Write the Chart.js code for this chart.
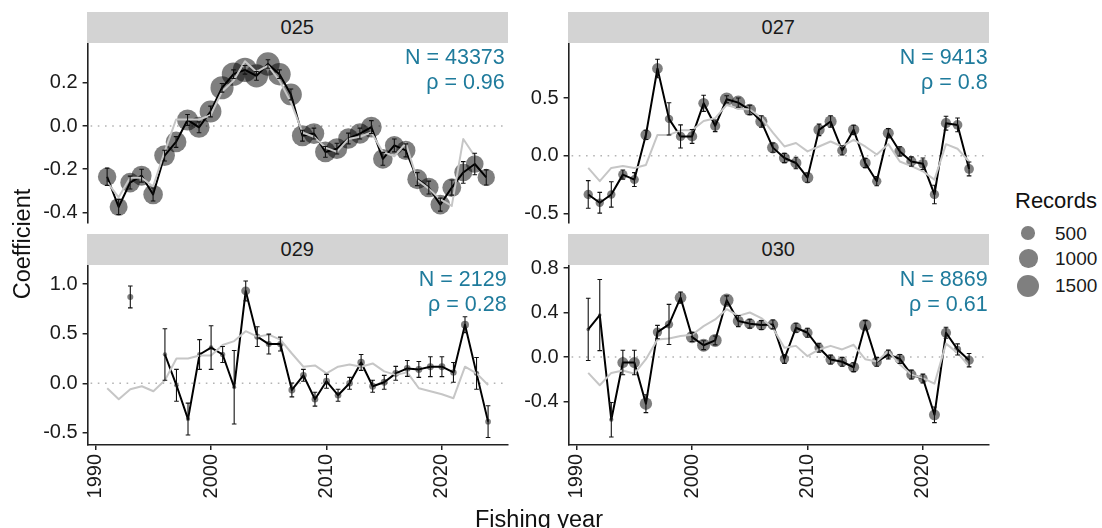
<!DOCTYPE html>
<html>
<head>
<meta charset="utf-8">
<script src="https://cdn.jsdelivr.net/npm/chart.js@4.4.1/dist/chart.umd.min.js"></script>
<style>
  html, body { margin: 0; padding: 0; background: #ffffff; }
  #fig { position: relative; width: 1102px; height: 528px; overflow: hidden;
         font-family: "Liberation Sans", Arial, sans-serif; color: #1a1a1a; }
  #fig canvas { position: absolute; }
  .strip { position: absolute; background: #d3d3d3; text-align: center;
           font-size: 20px; line-height: 31px; height: 31px; color: #1a1a1a; }
  .axis-title { position: absolute; font-size: 23.5px; line-height: 26px;
                text-align: center; white-space: nowrap; color: #111; }
  .key { position: absolute; border-radius: 50%; background: rgba(0, 0, 0, 0.5); }
  .key-label { position: absolute; font-size: 19px; line-height: 22px; color: #1a1a1a; }
  .legend-title { position: absolute; font-size: 22px; line-height: 25px; color: #111; }
</style>
</head>
<body>
<div id="fig"></div>
<script>
// ---- data -------------------------------------------------------------
const years = [1991, 1992, 1993, 1994, 1995, 1996, 1997, 1998, 1999, 2000,
               2001, 2002, 2003, 2004, 2005, 2006, 2007, 2008, 2009, 2010,
               2011, 2012, 2013, 2014, 2015, 2016, 2017, 2018, 2019, 2020,
               2021, 2022, 2023, 2024];

const panelNames = ['025', '027', '029', '030'];
const nTotals = [43373, 9413, 2129, 8869];
const rhoValues = ['0.96', '0.8', '0.28', '0.61'];

// Year coefficients (black), comparison index (grey), half-width of the error bar, records per year
const coef025 = [-0.235, -0.375, -0.262, -0.23, -0.317, -0.137, -0.074, 0.028, -0.006, 0.067,
                 0.177, 0.24, 0.26, 0.232, 0.287, 0.24, 0.146, -0.045, -0.035, -0.12,
                 -0.105, -0.058, -0.035, -0.005, -0.152, -0.09, -0.113, -0.246, -0.285, -0.364,
                 -0.285, -0.215, -0.176, -0.238];
const ref025 = [-0.26, -0.33, -0.24, -0.24, -0.28, -0.12, 0.03, 0.03, 0.03, 0.05,
                0.16, 0.21, 0.30, 0.25, 0.28, 0.21, 0.11, -0.03, -0.05, -0.10,
                -0.12, -0.06, -0.05, -0.03, -0.12, -0.14, -0.08, -0.25, -0.29, -0.34,
                -0.37, -0.06, -0.14, null];
const err025 = [0.04, 0.035, 0.03, 0.03, 0.03, 0.025, 0.025, 0.025, 0.025, 0.025,
                0.02, 0.02, 0.02, 0.02, 0.02, 0.02, 0.025, 0.025, 0.025, 0.025,
                0.025, 0.025, 0.025, 0.03, 0.03, 0.03, 0.03, 0.03, 0.03, 0.03,
                0.035, 0.05, 0.05, 0.035];
const rec025 = [1000, 950, 1150, 1200, 1150, 1300, 1300, 1350, 1350, 1450,
                1650, 1700, 1850, 1650, 1700, 1550, 1450, 1350, 1300, 1300,
                1300, 1250, 1250, 1300, 1150, 1050, 1100, 1200, 1150, 1150,
                1050, 950, 900, 873];

const coef027 = [-0.336, -0.408, -0.336, -0.164, -0.207, 0.181, 0.756, 0.319, 0.167, 0.167,
                 0.454, 0.259, 0.489, 0.46, 0.397, 0.296, 0.07, -0.02, -0.063, -0.19,
                 0.224, 0.296, 0.046, 0.224, -0.063, -0.221, 0.195, 0.037, -0.05, -0.07,
                 -0.336, 0.282, 0.267, -0.115];
const ref027 = [-0.106, -0.221, -0.106, -0.09, -0.106, -0.08, 0.18, 0.18, 0.22, 0.22,
                0.30, 0.325, 0.44, 0.41, 0.40, 0.33, 0.20, 0.08, 0.11, 0.037,
                0.08, 0.123, 0.08, 0.138, 0.08, 0.01, 0.10, -0.05, -0.09, -0.135,
                -0.207, 0.10, 0.06, -0.05];
const err027 = [0.12, 0.09, 0.11, 0.04, 0.06, 0.04, 0.08, 0.14, 0.10, 0.06,
                0.07, 0.05, 0.03, 0.04, 0.04, 0.05, 0.04, 0.04, 0.05, 0.04,
                0.05, 0.05, 0.04, 0.04, 0.04, 0.04, 0.04, 0.04, 0.04, 0.05,
                0.08, 0.06, 0.06, 0.06];
const rec027 = [200, 150, 150, 200, 180, 300, 280, 150, 200, 250,
                280, 250, 500, 533, 400, 380, 350, 300, 300, 350,
                320, 380, 230, 320, 300, 200, 300, 300, 250, 220,
                200, 250, 220, 220];

const coef029 = [null, null, 0.87, null, null, 0.29, -0.02, -0.36, 0.29, 0.36,
                 0.29, -0.04, 0.93, 0.47, 0.395, 0.395, -0.067, 0.08, -0.16, 0.02,
                 -0.12, 0.0, 0.21, -0.03, 0.01, 0.10, 0.15, 0.14, 0.167, 0.167,
                 0.11, 0.59, 0.10, -0.386];
const ref029 = [-0.05, -0.16, -0.06, -0.03, -0.08, 0.03, 0.25, 0.25, 0.28, 0.28,
                0.385, 0.425, 0.525, 0.47, 0.49, 0.44, 0.30, 0.167, 0.18, 0.10,
                0.167, 0.19, 0.167, 0.20, 0.12, 0.085, 0.11, -0.05, -0.08, -0.11,
                -0.15, 0.167, 0.10, -0.017];
const err029 = [null, null, 0.11, null, null, 0.26, 0.16, 0.16, 0.15, 0.22,
                0.08, 0.37, 0.10, 0.10, 0.10, 0.07, 0.07, 0.06, 0.07, 0.07,
                0.06, 0.06, 0.08, 0.06, 0.07, 0.07, 0.08, 0.08, 0.10, 0.10,
                0.10, 0.08, 0.16, 0.16];
const rec029 = [null, null, 60, null, null, 20, 25, 20, 30, 25,
                40, 15, 180, 60, 60, 70, 90, 80, 80, 90,
                80, 80, 110, 90, 90, 90, 80, 90, 90, 90,
                70, 134, 40, 50];

const coef030 = [0.248, 0.377, -0.564, -0.05, -0.05, -0.42, 0.224, 0.293, 0.534, 0.179,
                 0.106, 0.149, 0.51, 0.323, 0.30, 0.287, 0.293, -0.017, 0.263, 0.218,
                 0.083, -0.023, -0.043, -0.092, 0.287, -0.043, 0.022, -0.017, -0.158, -0.194,
                 -0.52, 0.218, 0.068, -0.029];
const ref030 = [-0.143, -0.254, -0.143, -0.122, -0.15, -0.02, 0.158, 0.167, 0.188, 0.20,
                0.278, 0.338, 0.43, 0.37, 0.40, 0.35, 0.26, 0.083, 0.10, 0.007,
                0.068, 0.10, 0.068, 0.11, -0.02, -0.04, 0.053, -0.068, -0.158, -0.19,
                -0.24, 0.12, 0.037, -0.083];
const err030 = [0.28, 0.32, 0.155, 0.11, 0.11, 0.08, 0.06, 0.18, 0.05, 0.04,
                0.04, 0.04, 0.04, 0.05, 0.04, 0.04, 0.04, 0.04, 0.04, 0.04,
                0.04, 0.04, 0.04, 0.04, 0.04, 0.04, 0.04, 0.04, 0.04, 0.04,
                0.07, 0.05, 0.05, 0.06];
const rec030 = [10, 10, 20, 300, 300, 400, 200, 150, 350, 400,
                450, 450, 500, 300, 300, 300, 279, 200, 300, 250,
                200, 250, 250, 300, 400, 250, 200, 250, 250, 200,
                300, 250, 100, 200];

const yTicks025 = [-0.4, -0.2, 0.0, 0.2];
const yTicks027 = [-0.5, 0.0, 0.5];
const yTicks029 = [-0.5, 0.0, 0.5, 1.0];
const yTicks030 = [-0.4, 0.0, 0.4, 0.8];
const xTicks = [1990, 2000, 2010, 2020];
const legendBreaks = [500, 1000, 1500];

// ---- appearance ---------------------------------------------------------
const FONT = '"Liberation Sans", Arial, sans-serif';
const TEAL = '#1f7b9c';
const X_MIN = 1989.3, X_MAX = 2025.7;

// point radius (px) from the number of records
function radiusFor(n) { return n == null ? 0 : 1 + 0.26 * Math.sqrt(n); }

const panels = [
  { name: panelNames[0], coef: coef025, ref: ref025, err: err025, recs: rec025, yTicks: yTicks025, n: nTotals[0], rho: rhoValues[0] },
  { name: panelNames[1], coef: coef027, ref: ref027, err: err027, recs: rec027, yTicks: yTicks027, n: nTotals[1], rho: rhoValues[1] },
  { name: panelNames[2], coef: coef029, ref: ref029, err: err029, recs: rec029, yTicks: yTicks029, n: nTotals[2], rho: rhoValues[2] },
  { name: panelNames[3], coef: coef030, ref: ref030, err: err030, recs: rec030, yTicks: yTicks030, n: nTotals[3], rho: rhoValues[3] }
];

// panel boxes on the page and free y ranges; canvases leave >= 20px around
// the plot so the axis label overhang never squeezes the plot area
const frames = [
  { plot: { x0: 87.6, x1: 507.7, y0: 42.7, y1: 222.7 }, canvas: { left: 0, top: 20, w: 515, h: 225 }, yMin: -0.4477, yMax: 0.3856, showX: false },
  { plot: { x0: 568.6, x1: 988.7, y0: 42.7, y1: 222.7 }, canvas: { left: 520, top: 20, w: 480, h: 225 }, yMin: -0.5806, yMax: 0.9792, showX: false },
  { plot: { x0: 87.6, x1: 507.7, y0: 265, y1: 445 }, canvas: { left: 0, top: 243, w: 515, h: 285 }, yMin: -0.6213, yMax: 1.1913, showX: true },
  { plot: { x0: 568.6, x1: 988.7, y0: 265, y1: 445 }, canvas: { left: 520, top: 243, w: 480, h: 285 }, yMin: -0.7914, yMax: 0.8273, showX: true }
];

const fig = document.getElementById('fig');

function addDiv(cls, text, css) {
  const d = document.createElement('div');
  d.className = cls;
  if (text != null) d.textContent = text;
  Object.assign(d.style, css);
  fig.appendChild(d);
  return d;
}

function makePanel(p, f) {
  const cv = document.createElement('canvas');
  cv.width = f.canvas.w; cv.height = f.canvas.h;
  Object.assign(cv.style, { left: f.canvas.left + 'px', top: f.canvas.top + 'px',
                            width: f.canvas.w + 'px', height: f.canvas.h + 'px' });
  fig.appendChild(cv);

  const pts = years.map((yr, i) => ({ x: yr, y: p.coef[i] }));
  const refPts = years.map((yr, i) => ({ x: yr, y: p.ref[i] }));

  const padTop = f.plot.y0 - f.canvas.top;
  const padRight = f.canvas.left + f.canvas.w - f.plot.x1;
  const yAxisW = f.plot.x0 - f.canvas.left;
  const bottomSpace = f.canvas.top + f.canvas.h - f.plot.y1;

  const zeroLine = {
    id: 'zeroLine',
    beforeDatasetsDraw(chart) {
      const { ctx, chartArea: a } = chart;
      const y = chart.scales.y.getPixelForValue(0);
      ctx.save();
      ctx.strokeStyle = '#b4b4b4';
      ctx.lineWidth = 1.6;
      ctx.setLineDash([1.6, 5.6]);
      ctx.beginPath();
      ctx.moveTo(a.left + 3, y);
      ctx.lineTo(a.right, y);
      ctx.stroke();
      ctx.restore();
    }
  };

  const errorBars = {
    id: 'errorBars',
    afterDatasetsDraw(chart) {
      const { ctx, chartArea: a } = chart;
      const xs = chart.scales.x, ys = chart.scales.y;
      ctx.save();
      ctx.beginPath();
      ctx.rect(a.left, a.top, a.right - a.left, a.bottom - a.top);
      ctx.clip();
      ctx.strokeStyle = '#111';
      ctx.lineWidth = 1.1;
      years.forEach((yr, i) => {
        const v = p.coef[i], e = p.err[i];
        if (v == null || e == null) return;
        const x = xs.getPixelForValue(yr);
        const hw = xs.getPixelForValue(yr + 0.2) - x;
        const yLo = ys.getPixelForValue(v - e), yHi = ys.getPixelForValue(v + e);
        ctx.beginPath();
        ctx.moveTo(x, yLo); ctx.lineTo(x, yHi);
        ctx.moveTo(x - hw, yLo); ctx.lineTo(x + hw, yLo);
        ctx.moveTo(x - hw, yHi); ctx.lineTo(x + hw, yHi);
        ctx.stroke();
      });
      ctx.restore();
    }
  };

  const statsText = {
    id: 'statsText',
    afterDraw(chart) {
      const { ctx, chartArea: a } = chart;
      ctx.save();
      ctx.font = '21.5px ' + FONT;
      ctx.fillStyle = TEAL;
      ctx.textAlign = 'right';
      ctx.textBaseline = 'alphabetic';
      ctx.fillText('N = ' + p.n, a.right - 1, a.top + 20.8);
      ctx.fillText('\u03C1 = ' + p.rho, a.right - 1, a.top + 45.8);
      ctx.restore();
    }
  };

  // Top row shares the x scale but shows no x axis: keep the box, hide its parts.
  const xAxis = f.showX ? {
    type: 'linear', min: X_MIN, max: X_MAX,
    afterBuildTicks: s => { s.ticks = xTicks.map(v => ({ value: v })); },
    afterFit: s => { s.height = bottomSpace; },
    ticks: { autoSkip: false, minRotation: 90, maxRotation: 90, padding: 4,
             color: '#1a1a1a', font: { family: FONT, size: 20 },
             callback: v => String(v) },
    grid: { drawOnChartArea: false, drawTicks: true, tickLength: 5, color: '#222', lineWidth: 1.5 },
    border: { display: true, color: '#222', width: 1.6 }
  } : {
    type: 'linear', min: X_MIN, max: X_MAX,
    afterBuildTicks: s => { s.ticks = xTicks.map(v => ({ value: v })); },
    afterFit: s => { s.height = bottomSpace; },
    ticks: { display: false },
    grid: { display: false, drawTicks: false },
    border: { display: false }
  };

  new Chart(cv, {
    type: 'line',
    data: {
      datasets: [
        { label: 'Records', data: pts, showLine: false, order: 3,
          pointRadius: c => radiusFor(p.recs[c.dataIndex]),
          pointBackgroundColor: 'rgba(0,0,0,0.5)', pointBorderWidth: 0 },
        { label: 'Coefficient', data: pts, order: 2, borderColor: '#000000', borderWidth: 2,
          pointRadius: 0, tension: 0, borderJoinStyle: 'round' },
        { label: 'Index', data: refPts, order: 1, borderColor: '#c6c6c6', borderWidth: 2,
          pointRadius: 0, tension: 0, borderJoinStyle: 'round' }
      ]
    },
    options: {
      responsive: false,
      animation: false,
      devicePixelRatio: 1,
      events: [],
      layout: { padding: { top: padTop, right: padRight, bottom: 0, left: 0 } },
      plugins: { legend: { display: false }, tooltip: { enabled: false } },
      scales: {
        x: xAxis,
        y: {
          type: 'linear', min: f.yMin, max: f.yMax,
          afterBuildTicks: s => { s.ticks = p.yTicks.map(v => ({ value: v })); },
          afterFit: s => { s.width = yAxisW; },
          ticks: { padding: 5, color: '#1a1a1a', font: { family: FONT, size: 20 },
                   callback: v => Number(v).toFixed(1) },
          grid: { drawOnChartArea: false, drawTicks: true, tickLength: 5, color: '#222', lineWidth: 1.5 },
          border: { display: true, color: '#222', width: 1.6 }
        }
      }
    },
    plugins: [zeroLine, errorBars, statsText]
  });

  // facet strip
  addDiv('strip', p.name, {
    left: (f.plot.x0 - 0.8) + 'px',
    top: (f.plot.y0 - 31) + 'px',
    width: (f.plot.x1 - f.plot.x0 + 0.8) + 'px'
  });
}

panels.forEach((p, i) => makePanel(p, frames[i]));

// axis titles
addDiv('axis-title', 'Fishing year', { left: '439px', top: '506px', width: '200px' });
addDiv('axis-title', 'Coefficient', { left: '-78px', top: '231px', width: '200px', transform: 'rotate(-90deg)' });

// size legend
addDiv('legend-title', 'Records', { left: '1015px', top: '188px' });
const keyY = [233.3, 258.5, 286];
legendBreaks.forEach((b, i) => {
  const r = radiusFor(b);
  addDiv('key', null, { left: (1028.3 - r) + 'px', top: (keyY[i] - r) + 'px',
                        width: (2 * r) + 'px', height: (2 * r) + 'px' });
  addDiv('key-label', String(b), { left: '1055px', top: (keyY[i] - 10.8) + 'px' });
});
</script>
</body>
</html>
